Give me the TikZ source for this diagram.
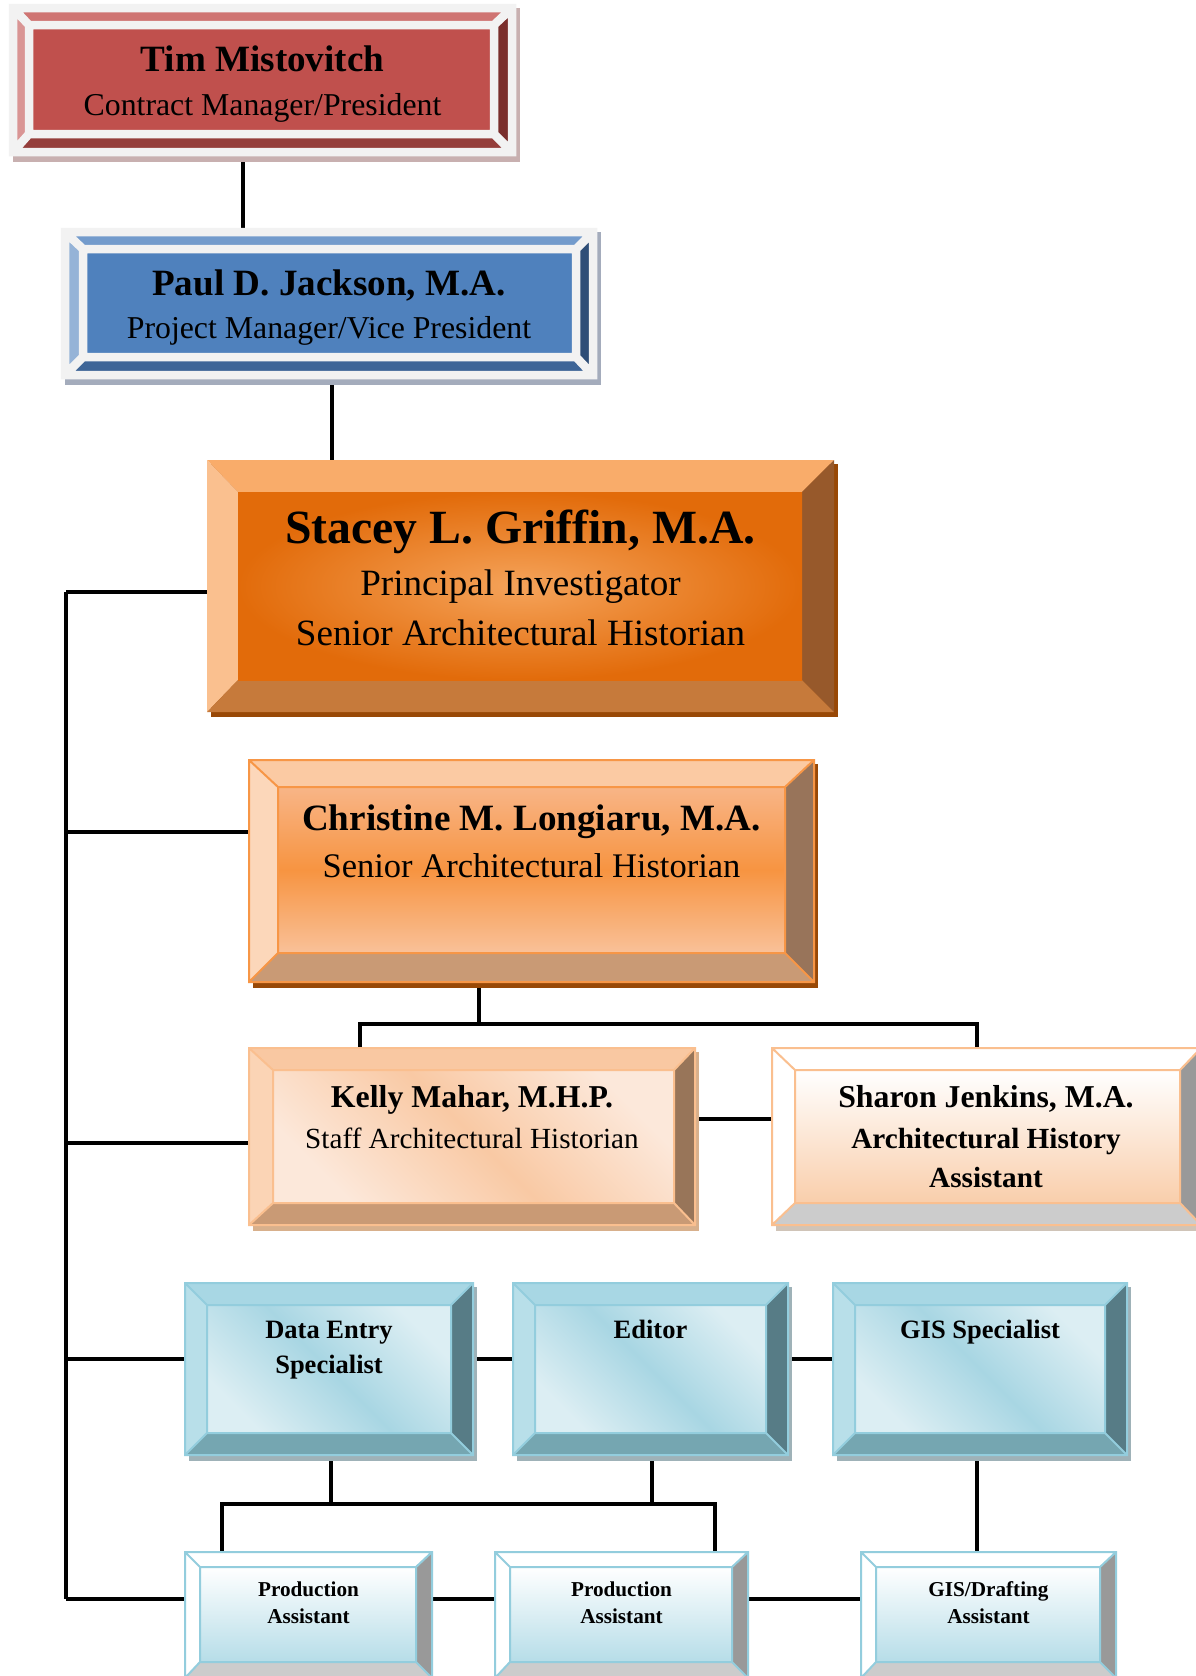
\documentclass[tikz,border=0pt]{standalone}
\usepackage{fontspec}
\setmainfont{Liberation Serif}
\usetikzlibrary{calc}

% Tim (red)
\definecolor{timT}{HTML}{CF7472}\definecolor{timL}{HTML}{D99594}
\definecolor{timR}{HTML}{7A2E2C}\definecolor{timB}{HTML}{953E3B}
\definecolor{timF}{HTML}{C0504D}\definecolor{timS}{HTML}{C8B0B0}
% Paul (blue)
\definecolor{paulT}{HTML}{739BCC}\definecolor{paulL}{HTML}{95B3D7}
\definecolor{paulR}{HTML}{2F4E77}\definecolor{paulB}{HTML}{3E6597}
\definecolor{paulF}{HTML}{4F81BD}\definecolor{paulS}{HTML}{A4ACBC}
% Stacey (orange)
\definecolor{stT}{HTML}{F9AC6A}\definecolor{stL}{HTML}{FAC08F}
\definecolor{stR}{HTML}{97592B}\definecolor{stB}{HTML}{C67A3B}
\definecolor{stS}{HTML}{984806}
% Christine
\definecolor{chT}{HTML}{FBCAA3}\definecolor{chL}{HTML}{FCD7BA}
\definecolor{chR}{HTML}{98745A}\definecolor{chB}{HTML}{C99A75}
\definecolor{chE}{HTML}{F79646}
% Kelly
\definecolor{keT}{HTML}{F9C8A2}\definecolor{keL}{HTML}{FBD4B5}
\definecolor{keR}{HTML}{987559}\definecolor{keB}{HTML}{C99A75}
\definecolor{keE}{HTML}{FABF8F}\definecolor{keS}{HTML}{D8B08C}
% Sharon
\definecolor{shT}{HTML}{FFFFFF}\definecolor{shL}{HTML}{FFFFFF}
\definecolor{shR}{HTML}{999999}\definecolor{shB}{HTML}{CCCCCC}
\definecolor{shS}{HTML}{D0C4B8}
% blue row
\definecolor{blT}{HTML}{A8D7E4}\definecolor{blL}{HTML}{B8DFE9}
\definecolor{blR}{HTML}{577C86}\definecolor{blB}{HTML}{75A6B1}
\definecolor{blE}{HTML}{93CDDD}\definecolor{blS}{HTML}{9FB2B8}
% production row
\definecolor{prT}{HTML}{FFFFFF}\definecolor{prL}{HTML}{FFFFFF}
\definecolor{prR}{HTML}{999999}\definecolor{prB}{HTML}{CCCCCC}
% face shading colours
\definecolor{stIn}{HTML}{F5A35A}\definecolor{stOut}{HTML}{E26B0A}
\definecolor{chTop}{HTML}{F8B587}\definecolor{chMid}{HTML}{F79441}\definecolor{chBot}{HTML}{F9C199}
\definecolor{keC1}{HTML}{F9C9A4}\definecolor{keC2}{HTML}{FCE8DA}
\definecolor{shBot}{HTML}{F9CEAB}
\definecolor{blC1}{HTML}{A8D6E3}\definecolor{blC2}{HTML}{DCEEF3}
\definecolor{prBot}{HTML}{B6DDE8}

\newcommand\bevelpaint[6]{%
  \path (#1.north west) ++(#2,#3) coordinate (#1-a)
        (#1.north east) ++(-#4,#3) coordinate (#1-b)
        (#1.south east) ++(-#4,-#5) coordinate (#1-c)
        (#1.south west) ++(#2,-#5) coordinate (#1-d);
  \fill[#6T] (#1.north west) -- (#1.north east) -- (#1-b) -- (#1-a) -- cycle;
  \fill[#6L] (#1.north west) -- (#1-a) -- (#1-d) -- (#1.south west) -- cycle;
  \fill[#6R] (#1.north east) -- (#1.south east) -- (#1-c) -- (#1-b) -- cycle;
  \fill[#6B] (#1.south west) -- (#1-d) -- (#1-c) -- (#1.south east) -- cycle;
  \path[#6face] (#1-a) rectangle (#1-c);
  \draw[#6line] (#1.north west) rectangle (#1.south east) (#1-a) rectangle (#1-c)
     (#1.north west) -- (#1-a) (#1.north east) -- (#1-b)
     (#1.south east) -- (#1-c) (#1.south west) -- (#1-d);
}

\tikzset{
  box/.style={rectangle, draw=none, inner sep=0pt, outer sep=0pt},
  conn/.style={line width=3.2pt, draw=black},
  lbl/.style={anchor=base, inner sep=0pt, text=black},
  timface/.style={fill=timF},
  timline/.style={draw=white!95!black, line width=8.5pt},
  paulface/.style={fill=paulF},
  paulline/.style={draw=white!95!black, line width=8.5pt},
  stface/.style={inner color=stIn, outer color=stOut},
  stline/.style={draw=none},
  chface/.style={top color=chTop, bottom color=chBot, middle color=chMid},
  chline/.style={draw=chE, line width=2pt},
  keface/.style={top color=keC2, bottom color=keC2, middle color=keC1, shading angle=-45},
  keline/.style={draw=keE, line width=2pt},
  shface/.style={top color=white, bottom color=shBot},
  shline/.style={draw=keE, line width=2pt},
  blface/.style={top color=blC2, bottom color=blC2, middle color=blC1, shading angle=-45},
  blline/.style={draw=blE, line width=2pt},
  prface/.style={top color=white, bottom color=prBot},
  prline/.style={draw=blE, line width=2pt},
  fA/.style={font=\fontsize{37.1}{44}\selectfont\bfseries},
  fAr/.style={font=\fontsize{31.8}{38}\selectfont},
  fS/.style={font=\fontsize{47.7}{56}\selectfont\bfseries},
  fSr/.style={font=\fontsize{37.1}{44}\selectfont},
  fCr/.style={font=\fontsize{34.5}{41}\selectfont},
  fK/.style={font=\fontsize{31.8}{38}\selectfont\bfseries},
  fKr/.style={font=\fontsize{29.2}{35}\selectfont},
  fKb/.style={font=\fontsize{29.2}{35}\selectfont\bfseries},
  fD/.style={font=\fontsize{26.5}{32}\selectfont\bfseries},
  fP/.style={font=\fontsize{21.2}{26}\selectfont\bfseries},
}

\begin{document}
\begin{tikzpicture}[x=1pt,y=-1pt]
\useasboundingbox (0,0) rectangle (1196,1676);
\clip (0,0) rectangle (1196,1676);
\fill[white] (0,0) rectangle (1196,1676);

% ---- box nodes (invisible outlines) ----
\node[box, minimum width=499pt, minimum height=144pt] (tim) at (262.5,80) {};
\node[box, minimum width=528pt, minimum height=143pt] (paul) at (329,303.5) {};
\node[box, minimum width=627pt, minimum height=252pt] (stacey) at (520.5,586) {};
\node[box, minimum width=565pt, minimum height=222pt] (christine) at (531.5,871) {};
\node[box, minimum width=446pt, minimum height=177pt] (kelly) at (472,1136.5) {};
\node[box, minimum width=429pt, minimum height=177pt] (sharon) at (986.5,1136.5) {};
\node[box, minimum width=288pt, minimum height=172pt] (data) at (329,1369) {};
\node[box, minimum width=275pt, minimum height=172pt] (editor) at (650.5,1369) {};
\node[box, minimum width=294pt, minimum height=172pt] (gis) at (980,1369) {};
\node[box, minimum width=247pt, minimum height=126pt] (p1) at (308.5,1615) {};
\node[box, minimum width=253pt, minimum height=126pt] (p2) at (621.5,1615) {};
\node[box, minimum width=255pt, minimum height=126pt] (gd) at (988.5,1615) {};

% ---- helper coordinates ----
\coordinate (c-tp) at (243,0);
\coordinate (c-ps) at (332,0);
\coordinate (trunk) at (66,0);
\coordinate (c-ch) at (479,0);
\coordinate (bus1) at (0,1024);
\coordinate (c-k) at (360,0);
\coordinate (c-s) at (977,0);
\coordinate (c-d) at (331,0);
\coordinate (c-e) at (652,0);
\coordinate (bus2) at (0,1504);
\coordinate (c-p1) at (222,0);
\coordinate (c-p2) at (715,0);
\coordinate (c-g) at (977,0);
\coordinate (r-s) at (0,592);
\coordinate (r-c) at (0,832);
\coordinate (r-k) at (0,1143);
\coordinate (r-ks) at (0,1119);
\coordinate (r-d) at (0,1359);
\coordinate (r-p) at (0,1599);

% ---- connectors ----
\draw[conn] (tim.south -| c-tp) -- (paul.north -| c-tp);
\draw[conn] (paul.south -| c-ps) -- (stacey.north -| c-ps);
\draw[conn] (r-s -| trunk) -- (r-p -| trunk);
\draw[conn] (r-s -| trunk) -- (stacey.west |- r-s);
\draw[conn] (r-c -| trunk) -- (christine.west |- r-c);
\draw[conn] (r-k -| trunk) -- (kelly.west |- r-k);
\draw[conn] (r-d -| trunk) -- (data.west |- r-d);
\draw[conn] (r-p -| trunk) -- (p1.west |- r-p);
\draw[conn] (christine.south -| c-ch) -- (bus1 -| c-ch);
\draw[conn] (kelly.north -| c-k) -- (bus1 -| c-k) -- (bus1 -| c-s) -- (sharon.north -| c-s);
\draw[conn] (kelly.east |- r-ks) -- (sharon.west |- r-ks);
\draw[conn] (data.east |- r-d) -- (editor.west |- r-d);
\draw[conn] (editor.east |- r-d) -- (gis.west |- r-d);
\draw[conn] (data.south -| c-d) -- (bus2 -| c-d);
\draw[conn] (editor.south -| c-e) -- (bus2 -| c-e);
\draw[conn] (p1.north -| c-p1) -- (bus2 -| c-p1) -- (bus2 -| c-p2) -- (p2.north -| c-p2);
\draw[conn] (gis.south -| c-g) -- (gd.north -| c-g);
\draw[conn] (p1.east |- r-p) -- (p2.west |- r-p);
\draw[conn] (p2.east |- r-p) -- (gd.west |- r-p);

% ---- shadows ----
\fill[timS] (tim.north west) rectangle ([shift={(8,10)}]tim.south east);
\fill[paulS] (paul.north west) rectangle ([shift={(8,10)}]paul.south east);
\fill[stS] ([shift={(4,4)}]stacey.north west) rectangle ([shift={(4,5)}]stacey.south east);
\fill[stS] ([shift={(4,4)}]christine.north west) rectangle ([shift={(4,6)}]christine.south east);
\fill[keS] ([shift={(4,4)}]kelly.north west) rectangle ([shift={(4,6)}]kelly.south east);
\fill[shS] ([shift={(4,4)}]sharon.north west) rectangle ([shift={(4,6)}]sharon.south east);
\fill[blS] ([shift={(4,4)}]data.north west) rectangle ([shift={(4,6)}]data.south east);
\fill[blS] ([shift={(4,4)}]editor.north west) rectangle ([shift={(4,6)}]editor.south east);
\fill[blS] ([shift={(4,4)}]gis.north west) rectangle ([shift={(4,6)}]gis.south east);

% ---- bevel boxes ----
\bevelpaint{tim}{16}{17}{18}{18}{tim}
\bevelpaint{paul}{18}{17}{17}{18}{paul}
\bevelpaint{stacey}{31}{32}{32}{32}{st}
\bevelpaint{christine}{29}{27}{29}{29}{ch}
\bevelpaint{kelly}{24}{22}{21}{22}{ke}
\bevelpaint{sharon}{23}{22}{21}{22}{sh}
\bevelpaint{data}{22}{22}{22}{22}{bl}
\bevelpaint{editor}{22}{22}{22}{22}{bl}
\bevelpaint{gis}{22}{22}{22}{22}{bl}
\bevelpaint{p1}{15}{15}{16}{16}{pr}
\bevelpaint{p2}{15}{15}{16}{16}{pr}
\bevelpaint{gd}{15}{15}{16}{16}{pr}

% ---- texts ----
\node[lbl, fA] (tim-n) at (262.5,71) {Tim Mistovitch};
\node[lbl, fAr] (tim-t) at (262.5,115) {Contract Manager/President};
\node[lbl, fA] (paul-n) at (329,295) {Paul D. Jackson, M.A.};
\node[lbl, fAr] (paul-t) at (329,338) {Project Manager/Vice President};
\node[lbl, fS] (st-n) at (520.5,543) {Stacey L. Griffin, M.A.};
\node[lbl, fSr] (st-t1) at (520.5,595) {Principal Investigator};
\node[lbl, fSr] (st-t2) at (520.5,645) {Senior Architectural Historian};
\node[lbl, fA] (ch-n) at (531.5,830) {Christine M. Longiaru, M.A.};
\node[lbl, fCr] (ch-t) at (531.5,877) {Senior Architectural Historian};
\node[lbl, fK] (ke-n) at (472,1107) {Kelly Mahar, M.H.P.};
\node[lbl, fKr] (ke-t) at (472,1148) {Staff Architectural Historian};
\node[lbl, fK] (sh-n) at (986,1107) {Sharon Jenkins, M.A.};
\node[lbl, fKb] (sh-t1) at (986,1148) {Architectural History};
\node[lbl, fKb] (sh-t2) at (986,1187) {Assistant};
\node[lbl, fD] (d-1) at (329,1338) {Data Entry};
\node[lbl, fD] (d-2) at (329,1373) {Specialist};
\node[lbl, fD] (e-1) at (650.5,1338) {Editor};
\node[lbl, fD] (g-1) at (980,1338) {GIS Specialist};
\node[lbl, fP] (p1-1) at (308.5,1596) {Production};
\node[lbl, fP] (p1-2) at (308.5,1623) {Assistant};
\node[lbl, fP] (p2-1) at (621.5,1596) {Production};
\node[lbl, fP] (p2-2) at (621.5,1623) {Assistant};
\node[lbl, fP] (gd-1) at (988.5,1596) {GIS/Drafting};
\node[lbl, fP] (gd-2) at (988.5,1623) {Assistant};
\end{tikzpicture}
\end{document}
